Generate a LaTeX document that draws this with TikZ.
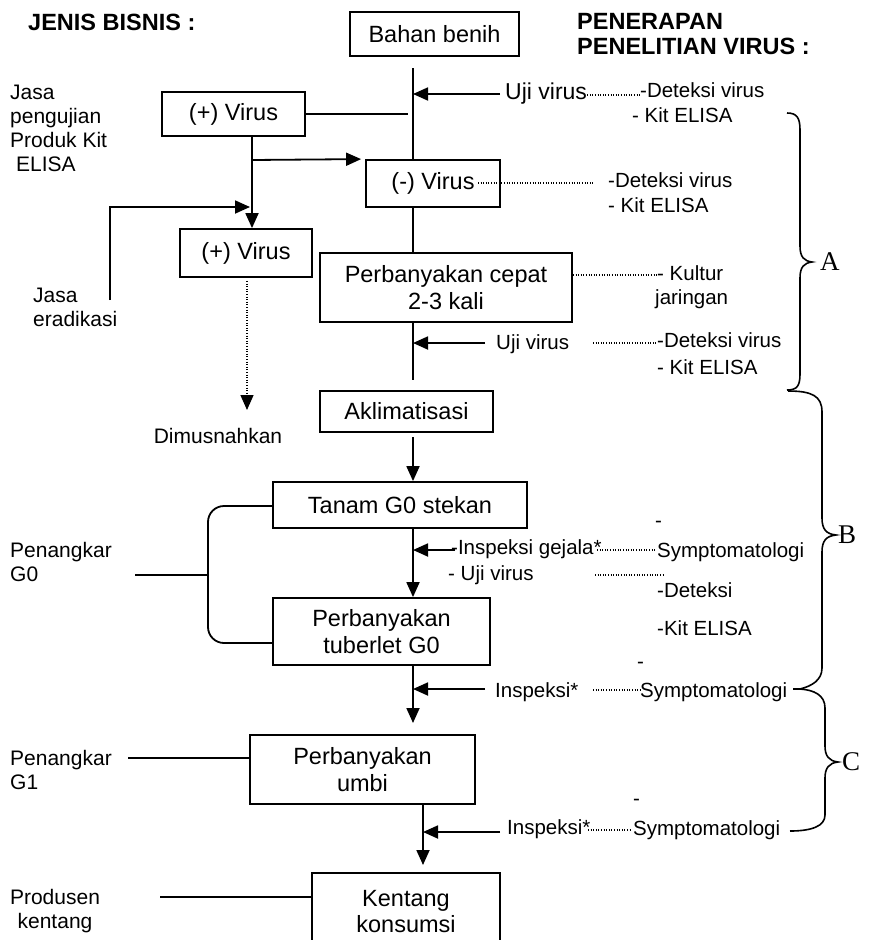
\documentclass[tikz,border=0pt]{standalone}
\usepackage{fontspec}
\setmainfont{Liberation Sans}
\newfontfamily\abcfont{Liberation Serif}
\usetikzlibrary{arrows.meta}
\begin{document}
\begin{tikzpicture}[x=1pt,y=-1pt,
  boxn/.style={draw, line width=1.8pt, inner sep=0pt, align=center, font=\fontsize{23.5}{26.5}\selectfont},
  lbl/.style={inner sep=0pt, align=left, font=\fontsize{21}{24}\selectfont},
  rlbl/.style={inner sep=0pt, align=left, font=\fontsize{20.5}{24}\selectfont},
  head/.style={inner sep=0pt, align=left, font=\bfseries\fontsize{23.5}{25}\selectfont},
  ln/.style={line width=1.8pt},
  arr/.style={line width=1.8pt, -{Triangle[length=15pt,width=13pt]}},
  dots/.style={line width=1.4pt, dash pattern=on 1pt off 1.6pt},
  brc/.style={line width=1.6pt},
  abc/.style={inner sep=0pt, font=\abcfont\fontsize{27}{27}\selectfont}
]
\useasboundingbox (0,0) rectangle (881,940);
\clip (0,0) rectangle (881,940);
\fill[white] (0,0) rectangle (881,940);

% headers
\node[head, anchor=base west] (hjenis) at (28,30) {JENIS BISNIS :};
\node[head, anchor=north west] (hpen) at (577,13.5) {PENERAPAN\\PENELITIAN VIRUS :};

% boxes
\node[boxn, minimum width=169pt, minimum height=44pt] (bahan) at (434.5,34) {Bahan benih};
\node[boxn, minimum width=143pt, minimum height=44pt] (plusA) at (233.5,114) {(+) Virus};
\node[boxn, minimum width=134pt, minimum height=47pt] (minus) at (433,183.5) {(-) Virus};
\node[boxn, minimum width=132pt, minimum height=48pt] (plusB) at (246,253) {(+) Virus};
\node[boxn, minimum width=252pt, minimum height=69pt] (cepat) at (446,287.5) {Perbanyakan cepat\\2-3 kali};
\node[boxn, minimum width=173pt, minimum height=41pt] (aklim) at (406.5,411.5) {Aklimatisasi};
\node[boxn, minimum width=254pt, minimum height=46pt] (tanam) at (400,505) {Tanam G0 stekan};
\node[boxn, minimum width=217pt, minimum height=67pt] (tuber) at (381.5,631.5) {Perbanyakan\\tuberlet G0};
\node[boxn, minimum width=225pt, minimum height=69pt] (umbi) at (362.5,769.5) {Perbanyakan\\umbi};
\node[boxn, minimum width=188pt, minimum height=77pt] (kentang) at (406,911.5) {Kentang\\konsumsi};

% free-end coordinates
\coordinate (m0) at (413,68);
\coordinate (m1) at (413,380);
\coordinate (m2) at (413,437);
\coordinate (m3) at (413,723);
\coordinate (n3) at (423,865);

% main spine
\draw[ln] (m0) -- (413,0 |- minus.north);
\draw[ln] (413,0 |- minus.south) -- (413,0 |- cepat.north);
\draw[ln] (413,0 |- cepat.south) -- (m1);
\draw[arr] (m2) -- (413,0 |- tanam.north);
\draw[arr] (413,0 |- tanam.south) -- (413,0 |- tuber.north);
\draw[arr] (413,0 |- tuber.south) -- (m3);
\draw[arr] (423,0 |- umbi.south) -- (n3);

% left branch
\draw[ln] (plusA.east) -- (408,114);
\draw[arr] (plusA.south -| 252,0) -- (252,0 |- plusB.north);
\draw[arr] (252,160) -- ([xshift=-4pt]minus.north west);
\coordinate (erad) at (110,300);
\draw[arr] (erad) -- (110,207) -- (250,207);
\coordinate (dest) at (247,410);
\draw[dots, -{Triangle[length=15pt,width=13pt]}] (247,0 |- plusB.south) ++(0,3) -- (dest);
\node[lbl, anchor=base] (dimus) at (218,443) {Dimusnahkan};

% left labels
\node[lbl, anchor=north west] (jasap) at (10,84.5) {Jasa\\pengujian\\Produk Kit\\\hspace*{6pt}ELISA};
\node[lbl, anchor=north west] (jasae) at (33,287.5) {Jasa\\eradikasi};
\node[lbl, anchor=north west] (pg0) at (10,542.5) {Penangkar\\G0};
\node[lbl, anchor=north west] (pg1) at (10,750.5) {Penangkar\\G1};
\node[lbl, anchor=north, align=center] (prod) at (55,889.5) {Produsen\\kentang};

% G0 bracket and lines
\draw[ln, rounded corners=16pt] (tanam.west |- 0,506) -- (208,506) -- (208,643) -- (tuber.west |- 0,643);
\draw[ln] (135,575) -- (208,575);
\draw[ln] (128,758) -- (umbi.west |- 0,758);
\draw[ln] (160,897) -- (kentang.west |- 0,897);

% right: first test
\draw[arr] (500,94) -- (413,94);
\node[inner sep=0pt, font=\fontsize{23}{24}\selectfont, anchor=base west] (uji1) at (505,99.5) {Uji virus};
\draw[dots] (uji1.east |- 0,95) -- (640,95);
\node[rlbl, anchor=base west] (d1a) at (640,97) {-Deteksi virus};
\node[rlbl, anchor=base west] (d1b) at (632,122) {- Kit ELISA};

% (-) virus
\draw[dots] (478,183) -- (593,183);
\node[rlbl, anchor=base west] (d2a) at (608,187) {-Deteksi virus};
\node[rlbl, anchor=base west] (d2b) at (608,212) {- Kit ELISA};

% cepat
\draw[dots] (cepat.east |- 0,275) -- (657,275);
\node[rlbl, anchor=base west] (kul) at (657,280) {- Kultur};
\node[rlbl, anchor=base west] (jar) at (655,304) {jaringan};

% second test
\draw[arr] (485,343) -- (413,343);
\node[rlbl, anchor=base west] (uji2) at (496,349) {Uji virus};
\draw[dots] (593,343) -- (657,343);
\node[rlbl, anchor=base west] (d3a) at (657,347) {-Deteksi virus};
\node[rlbl, anchor=base west] (d3b) at (657,374) {- Kit ELISA};

% inspeksi gejala
\draw[arr] (455,550) -- (413,550);
\node[rlbl, anchor=base west] (insg) at (451,554) {-Inspeksi gejala*};
\node[rlbl, anchor=base west] (ujig) at (448,580) {- Uji virus};
\draw[dots] (597,550) -- (655,550);
\node[rlbl, anchor=base west] (s1d) at (655,527) {-};
\node[rlbl, anchor=base west] (s1) at (657,557) {Symptomatologi};
\draw[dots] (595,575) -- (663,575);
\node[rlbl, anchor=base west] (dtk) at (657,597) {-Deteksi};
\node[rlbl, anchor=base west] (kit) at (657,635) {-Kit ELISA};

% inspeksi 1
\draw[arr] (485,689) -- (413,689);
\node[rlbl, anchor=base west] (ins1) at (495,697) {Inspeksi*};
\draw[dots] (593,690) -- (640,690);
\node[rlbl, anchor=base west] (s2d) at (637,668) {-};
\node[rlbl, anchor=base west] (s2) at (640,697) {Symptomatologi};

% inspeksi 2
\draw[arr] (500,832) -- (423,832);
\node[rlbl, anchor=base west] (ins2) at (507,834) {Inspeksi*};
\draw[dots] (588,830) -- (632,830);
\node[rlbl, anchor=base west] (s3d) at (633,805) {-};
\node[rlbl, anchor=base west] (s3) at (633,835) {Symptomatologi};

% braces
\draw[brc] (787,113) .. controls (797,113) and (800,118) .. (800,130) -- (800,246) .. controls (800,257) and (804,261) .. (812,262) .. controls (804,263) and (800,267) .. (800,278) -- (800,374) .. controls (800,386) and (797,390) .. (787,390);
\draw[brc] (788,391) .. controls (812,391) and (822,396) .. (822,412) -- (822,518) .. controls (822,529) and (826,534) .. (836,535) .. controls (826,536) and (822,541) .. (822,552) -- (822,668) .. controls (822,680) and (812,686) .. (800,689) -- (793,689);
\draw[brc] (800,689) .. controls (814,690) and (825,695) .. (825,708) -- (825,746) .. controls (825,756) and (829,761) .. (838,762) .. controls (829,763) and (825,768) .. (825,778) -- (825,815) .. controls (825,826) and (812,831) .. (790,831);
\node[abc, anchor=west] (la) at (820,262) {A};
\node[abc, anchor=west] (lb) at (838,535) {B};
\node[abc, anchor=west] (lc) at (842,762) {C};
\end{tikzpicture}
\end{document}
